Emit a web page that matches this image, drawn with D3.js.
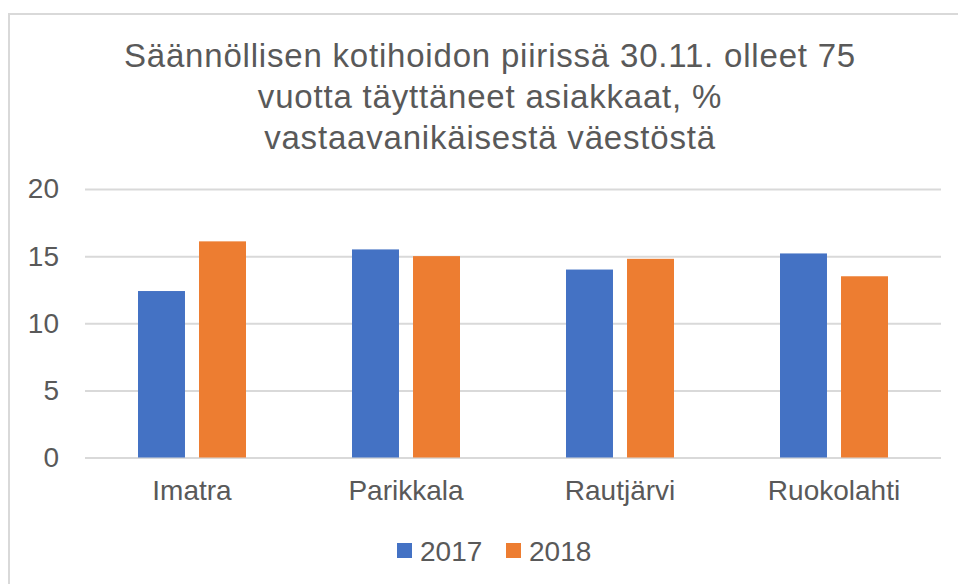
<!DOCTYPE html>
<html>
<head>
<meta charset="utf-8">
<script src="https://cdn.jsdelivr.net/npm/d3@7"></script>
<style>
  body { margin: 0; background: #fff; }
  text { font-family: "Liberation Sans", Arial, sans-serif; fill: #595959; }
</style>
</head>
<body>
<div id="chart"></div>
<script>
var categories = ["Imatra", "Parikkala", "Rautjärvi", "Ruokolahti"];
var series = ["2017", "2018"];
var values_2017 = [12.4, 15.5, 14.0, 15.2];
var values_2018 = [16.1, 15.0, 14.8, 13.5];
var y_ticks = [0, 5, 10, 15, 20];
var title_lines = ["Säännöllisen kotihoidon piirissä 30.11. olleet 75",
                   "vuotta täyttäneet asiakkaat, %",
                   "vastaavanikäisestä väestöstä"];
var colours = {"2017": "#4472C4", "2018": "#ED7D31"};

var W = 958, H = 584;
var svg = d3.select("#chart").append("svg").attr("width", W).attr("height", H);

// chart border (right and bottom are cut off in the picture)
svg.append("rect").attr("x", 9).attr("y", 14).attr("width", 1000).attr("height", 1000)
        .attr("fill", "none").attr("stroke", "#d9d9d9").attr("stroke-width", 2);

var x0 = d3.scaleBand().domain(categories).range([85, 941]);
var y = d3.scaleLinear().domain([0, 20]).range([457.5, 189]);

// title
svg.append("g").selectAll("text").data(title_lines).enter().append("text")
        .attr("x", 490)
        .attr("y", function (d, i) {
            return 67 + i * 41;
        })
        .attr("text-anchor", "middle")
        .style("font-size", "33px")
        .style("letter-spacing", "0.8px")
        .text(function (d) {
            return d;
        });

// gridlines + y labels
var yAxis = d3.axisLeft(y).tickValues(y_ticks).tickSize(-(941 - 85)).tickPadding(26);
var gy = svg.append("g").attr("transform", "translate(85,0)").call(yAxis);
gy.select(".domain").remove();
gy.selectAll(".tick line").attr("stroke", "#d9d9d9").attr("stroke-width", 2);
gy.selectAll(".tick text").style("font-size", "28px").attr("fill", "#595959");

// bars
var rows = categories.map(function (c, i) {
    return {cat: c, vals: [{s: "2017", v: values_2017[i]}, {s: "2018", v: values_2018[i]}]};
});

var groups = svg.append("g").selectAll("g").data(rows).enter().append("g")
        .attr("transform", function (d) {
            return "translate(" + (x0(d.cat) + x0.bandwidth() / 2 - 54) + ",0)";
        });

var x1 = d3.scaleBand().domain(series).range([0, 108]).paddingInner(0.23);

groups.selectAll("rect").data(function (d) {
    return d.vals;
}).enter().append("rect")
        .attr("x", function (d) {
            return x1(d.s);
        })
        .attr("width", x1.bandwidth())
        .attr("y", function (d) {
            return y(d.v);
        })
        .attr("height", function (d) {
            return y(0) - y(d.v);
        })
        .attr("fill", function (d) {
            return colours[d.s];
        });

// x labels
var xAxis = d3.axisBottom(x0).tickSize(0).tickPadding(23);
var gx = svg.append("g").attr("transform", "translate(0," + y(0) + ")").call(xAxis);
gx.select(".domain").remove();
gx.selectAll(".tick text").style("font-size", "28px").attr("fill", "#595959");

// legend
var legend = svg.append("g");
var lx = [397, 506];
series.forEach(function (s, i) {
    legend.append("rect").attr("x", lx[i]).attr("y", 543).attr("width", 15).attr("height", 15)
            .attr("fill", colours[s]);
    legend.append("text").attr("x", lx[i] + 23).attr("y", 561)
            .style("font-size", "28px").text(s);
});
</script>
</body>
</html>
